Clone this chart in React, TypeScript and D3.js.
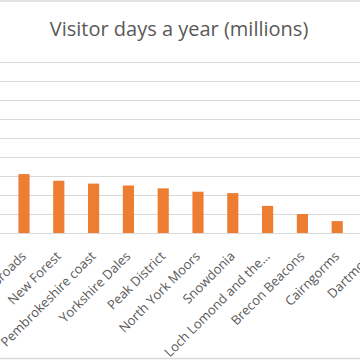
import React from "react";
import * as d3 from "d3";

const title = "Visitor days a year (millions)";
const parks = [
  "Broads",
  "New Forest",
  "Pembrokeshire coast",
  "Yorkshire Dales",
  "Peak District",
  "North York Moors",
  "Snowdonia",
  "Loch Lomond and the…",
  "Brecon Beacons",
  "Cairngorms",
  "Dartmoor",
];
const visitorDays = [6.2, 5.5, 5.2, 5.0, 4.7, 4.35, 4.2, 2.85, 2.0, 1.25, 1.1];
const yTicks = [0, 2, 4, 6, 8, 10, 12, 14, 16, 18];

const W = 360;
const H = 360;
const step = 34.8;
const firstCenter = 24;
const plotTop = 62;
const plotBottom = 233;

export default function App() {
  const x0 = firstCenter - step / 2;
  const x = d3
    .scaleBand<string>()
    .domain(parks)
    .range([x0, x0 + step * parks.length])
    .paddingInner(0.68)
    .paddingOuter(0.34);
  const y = d3.scaleLinear().domain([0, 18]).range([plotBottom, plotTop]);
  const grid = "#D9D9D9";
  const textColor = "#595959";
  const font = "'Open Sans', 'Liberation Sans', sans-serif";

  return (
    <svg
      width={W}
      height={H}
      style={{ position: "fixed", left: 0, top: 0, display: "block", background: "#fff" }}
    >
      <rect x={0} y={0} width={W} height={H} fill="#fff" />
      <line x1={0} x2={W} y1={1} y2={1} stroke={grid} strokeWidth={1.5} />
      <line x1={0} x2={W} y1={358.5} y2={358.5} stroke={grid} strokeWidth={1.5} />
      <text
        x={179}
        y={36}
        textAnchor="middle"
        fill={textColor}
        fontFamily={font}
        fontSize={20}
      >
        {title}
      </text>
      {yTicks.map((t) => (
        <line
          key={t}
          x1={0}
          x2={W}
          y1={Math.round(y(t)) + 0.5}
          y2={Math.round(y(t)) + 0.5}
          stroke={grid}
          strokeWidth={1}
        />
      ))}
      {parks.map((p, i) => (
        <rect
          key={p}
          x={x(p)}
          y={y(visitorDays[i])}
          width={x.bandwidth()}
          height={y(0) - y(visitorDays[i])}
          fill="#ED7D31"
        />
      ))}
      {parks.map((p) => {
        const cx = (x(p) ?? 0) + x.bandwidth() / 2 + 3;
        const cy = plotBottom + 24;
        return (
          <text
            key={p + "-l"}
            x={cx}
            y={cy}
            transform={`rotate(-45 ${cx} ${cy})`}
            textAnchor="end"
            fill={textColor}
            fontFamily={font}
            fontSize={13}
          >
            {p}
          </text>
        );
      })}
    </svg>
  );
}
